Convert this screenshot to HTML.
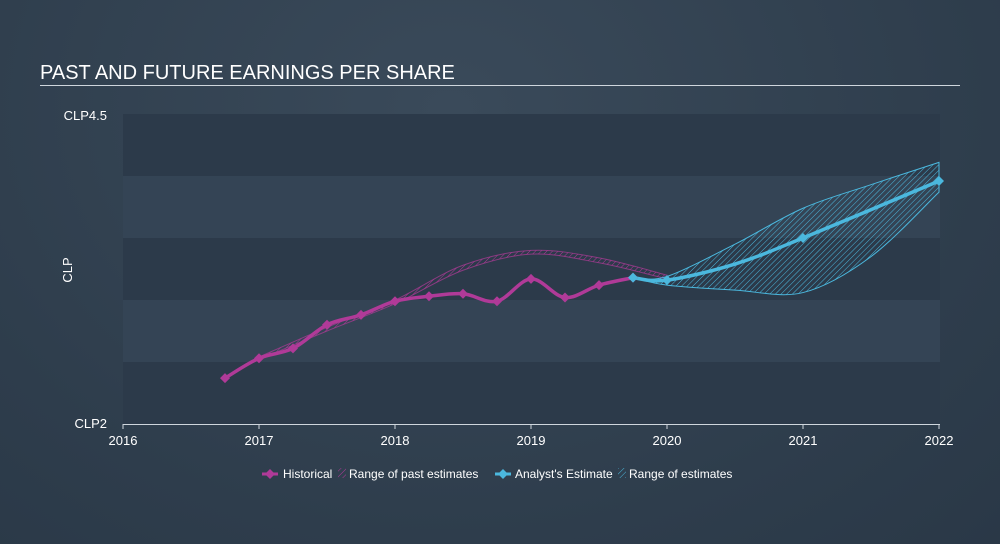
<!DOCTYPE html>
<html><head><meta charset="utf-8"><style>
body{margin:0;width:1000px;height:544px;overflow:hidden;font-family:"Liberation Sans",sans-serif;}
#bg{position:absolute;left:0;top:0;width:1000px;height:544px;background:radial-gradient(ellipse at 45% 20%,#3a4a5a 0%,#2e3d4c 70%,#2a3847 100%);}
</style></head><body>
<div id="bg"></div>
<svg id="c" width="1000" height="544" style="position:absolute;left:0;top:0">
<defs>
<pattern id="hp" width="4" height="4" patternUnits="userSpaceOnUse" patternTransform="rotate(45)"><line x1="0" y1="0" x2="0" y2="4" stroke="#b03a98" stroke-width="1"/></pattern>
<pattern id="hb" width="4" height="4" patternUnits="userSpaceOnUse" patternTransform="rotate(45)"><line x1="0" y1="0" x2="0" y2="4" stroke="#4bb8de" stroke-width="1"/></pattern>
</defs>
<text x="40" y="79" fill="#fff" font-size="20">PAST AND FUTURE EARNINGS PER SHARE</text>
<line x1="40" y1="85.5" x2="960" y2="85.5" stroke="#cfd6dd" stroke-width="1"/>
<g id="bands"></g>
<text x="107" y="120" fill="#fff" font-size="13" text-anchor="end">CLP4.5</text>
<text x="107" y="428" fill="#fff" font-size="13" text-anchor="end">CLP2</text>
<text x="72" y="270" fill="#fff" font-size="13" text-anchor="middle" transform="rotate(-90 72 270)">CLP</text>
<line x1="123" y1="424.5" x2="940" y2="424.5" stroke="#cfd6dd" stroke-width="1"/>
<g id="xt"></g><g id="marks"></g>
<g font-size="12" fill="#fff">
<g><line x1="262" y1="474" x2="278" y2="474" stroke="#b03a98" stroke-width="3"/><path d="M270 469l5 5-5 5-5-5z" fill="#b03a98"/><text x="283" y="478">Historical</text></g>
<g><rect x="338" y="468" width="8" height="10" fill="url(#hp)"/><text x="349" y="478">Range of past estimates</text></g>
<g><line x1="495" y1="474" x2="511" y2="474" stroke="#4bb8de" stroke-width="3"/><path d="M503 469l5 5-5 5-5-5z" fill="#4bb8de"/><text x="515" y="478">Analyst's Estimate</text></g>
<g><rect x="618" y="468" width="8" height="10" fill="url(#hb)"/><text x="629" y="478">Range of estimates</text></g>
</g>
</svg>
<script>
const years=[2016,2017,2018,2019,2020,2021,2022];
const histX=[2016.75,2017,2017.25,2017.5,2017.75,2018,2018.25,2018.5,2018.75,2019,2019.25,2019.5,2019.75];
const histY=[2.37,2.53,2.61,2.80,2.88,2.99,3.03,3.05,2.99,3.17,3.02,3.12,3.18];
const estX=[2019.75,2020,2021,2022];
const estY=[3.18,3.16,3.50,3.96];
const estLineX=[2019.75,2020,2020.5,2021,2022];
const estLineY=[3.18,3.16,3.29,3.50,3.96];
const estRangeX=[2019.75,2020,2020.5,2021,2021.5,2022];
const estHigh=[3.18,3.19,3.45,3.74,3.93,4.11];
const estLow=[3.18,3.12,3.08,3.06,3.35,3.87];
const pastX=[2017,2017.5,2018,2018.5,2019,2019.5,2020];
const pastHigh=[2.54,2.78,3.00,3.28,3.40,3.34,3.20];
const pastLow=[2.52,2.75,2.97,3.24,3.37,3.30,3.17];
const xs=v=>123+(v-2016)*136;
const ys=v=>424-(v-2)*124;
const NS="http://www.w3.org/2000/svg";
function mk(t,a,p){const e=document.createElementNS(NS,t);for(const k in a)e.setAttribute(k,a[k]);p.appendChild(e);return e;}
const B=document.getElementById('bands');
for(let i=0;i<5;i++){const r=mk('rect',{x:123,y:114+i*62,width:817,height:62,fill:i%2?'#344455':'#2c3a4a'},B);

}
const XT=document.getElementById('xt');
years.forEach(y=>{mk('line',{x1:xs(y),y1:424,x2:xs(y),y2:429,stroke:'#cfd6dd'},XT);
const t=mk('text',{x:xs(y),y:445,fill:'#fff','font-size':13,'text-anchor':'middle'},XT);t.textContent=y;

});
function smooth(X,Y){let d='';const p=X.map((x,i)=>[xs(x),ys(Y[i])]);
d='M'+p[0];for(let i=0;i<p.length-1;i++){const p0=p[i-1]||p[i],p1=p[i],p2=p[i+1],p3=p[i+2]||p2;
d+=`C${p1[0]+(p2[0]-p0[0])/6},${p1[1]+(p2[1]-p0[1])/6} ${p2[0]-(p3[0]-p1[0])/6},${p2[1]-(p3[1]-p1[1])/6} ${p2[0]},${p2[1]}`;}return d;}
function area(X,H,L){const a=smooth(X,H);const rx=[...X].reverse(),rl=[...L].reverse();return a+smooth(rx,rl).replace('M','L')+'Z';}
const M=document.getElementById('marks');
let e=mk('path',{d:area(pastX,pastHigh,pastLow),fill:'url(#hp)',stroke:'#b03a98','stroke-width':1,'stroke-opacity':0.7},M);


e=mk('path',{d:area(estRangeX,estHigh,estLow),fill:'url(#hb)',stroke:'#4bb8de','stroke-width':1},M);


e=mk('path',{d:smooth(histX,histY),fill:'none',stroke:'#b03a98','stroke-width':3.5},M);


e=mk('path',{d:smooth(estLineX,estLineY),fill:'none',stroke:'#4bb8de','stroke-width':3.5},M);


histX.forEach((x,i)=>{const cx=xs(x),cy=ys(histY[i]);const p=mk('path',{d:`M${cx} ${cy-5}l5 5-5 5-5-5z`,fill:'#b03a98'},M);

});
estX.forEach((x,i)=>{const cx=xs(x),cy=ys(estY[i]);const p=mk('path',{d:`M${cx} ${cy-5}l5 5-5 5-5-5z`,fill:'#4bb8de'},M);

});
</script>
</body></html>
